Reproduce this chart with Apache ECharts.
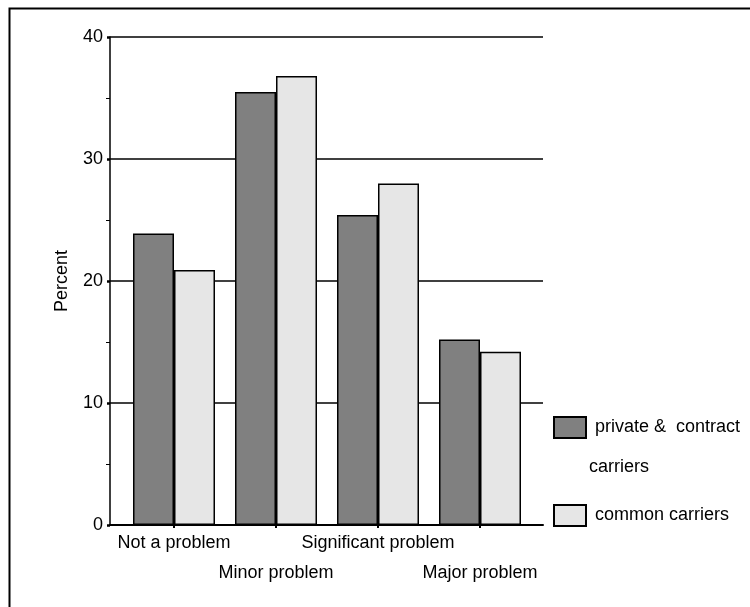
<!DOCTYPE html>
<html>
<head>
<meta charset="utf-8">
<script src="https://cdn.jsdelivr.net/npm/echarts@6/dist/echarts.min.js"></script>
<style>html,body{margin:0;padding:0;background:#fff}#c{width:750px;height:607px}</style>
</head>
<body>
<div id="c"></div>
<script>
const categories = ['Not a problem', 'Minor problem', 'Significant problem', 'Major problem'];
const privateCarriers = [23.9, 35.5, 25.4, 15.2];
const commonCarriers = [20.9, 36.8, 28.0, 14.2];
const yTicks = [0, 10, 20, 30, 40];

const FONT = 'Liberation Sans, Arial, sans-serif';
const chart = echarts.init(document.getElementById('c'));
chart.setOption({
  animation: false,
  backgroundColor: '#fff',
  textStyle: { fontFamily: FONT },
  grid: [
    { left: 123, right: 219, top: 37, bottom: 82 },
    { left: 110, right: 207, top: 37, bottom: 82 }
  ],
  xAxis: [
    {
      type: 'category', gridIndex: 0, data: categories,
      axisLine: { show: false },
      axisTick: { show: true, alignWithLabel: true, length: 3, lineStyle: { color: '#000', width: 2 } },
      axisLabel: {
        interval: 0, margin: 3, fontSize: 18, color: '#000', lineHeight: 30, fontFamily: FONT,
        formatter: (v, i) => (i % 2 ? '\n' + v : v)
      },
      z: 5
    },
    {
      type: 'category', gridIndex: 1, data: [''],
      axisLine: { show: true, lineStyle: { color: '#000', width: 2 } },
      axisTick: { show: false }, axisLabel: { show: false }, z: 4
    }
  ],
  yAxis: [
    { type: 'value', gridIndex: 0, min: 0, max: 40, interval: 10, show: false, splitLine: { show: false } },
    {
      type: 'value', gridIndex: 1, min: 0, max: 40, interval: 10,
      name: 'Percent', nameLocation: 'middle', nameGap: 39,
      nameTextStyle: { fontSize: 18, color: '#000', fontFamily: FONT },
      axisLine: { show: true, lineStyle: { color: '#000', width: 1.5 } },
      axisTick: { show: true, length: 3, lineStyle: { color: '#000', width: 2.5 } },
      minorTick: { show: true, splitNumber: 2, length: 4, lineStyle: { color: '#000', width: 1 } },
      axisLabel: { margin: 7, fontSize: 18, color: '#000', fontFamily: FONT,
        formatter: v => (yTicks.indexOf(v) >= 0 ? String(v) : '') },
      splitLine: { show: true, lineStyle: { color: '#000', width: 1.5 } },
      z: 0
    }
  ],
  legend: {
    orient: 'vertical', left: 548, top: 411,
    itemWidth: 32, itemHeight: 21, itemGap: 65,
    icon: 'rect',
    textStyle: { fontSize: 18, color: '#000', fontFamily: FONT, padding: [0, 0, 0, 4] },
    formatter: n => (n === 'private &  contract carriers' ? 'private &  contract' : n),
    data: ['private &  contract carriers', 'common carriers']
  },
  graphic: [
    { type: 'rect', left: 7, top: 6, shape: { width: 742, height: 600 },
      style: { fill: 'none', stroke: '#000', lineWidth: 2 }, silent: true },
    { type: 'text', left: 589, top: 458,
      style: { text: 'carriers', fontSize: 18, fill: '#000', fontFamily: FONT } }
  ],
  series: [
    {
      name: 'private &  contract carriers', type: 'bar', xAxisIndex: 0, yAxisIndex: 0,
      data: privateCarriers, barWidth: 41, barGap: '0%',
      itemStyle: { color: '#808080', borderColor: '#000', borderWidth: 1.5 }, z: 3
    },
    {
      name: 'common carriers', type: 'bar', xAxisIndex: 0, yAxisIndex: 0,
      data: commonCarriers, barWidth: 41, barGap: '0%',
      itemStyle: { color: '#e6e6e6', borderColor: '#000', borderWidth: 1.5 }, z: 3
    }
  ]
});
</script>
</body>
</html>
